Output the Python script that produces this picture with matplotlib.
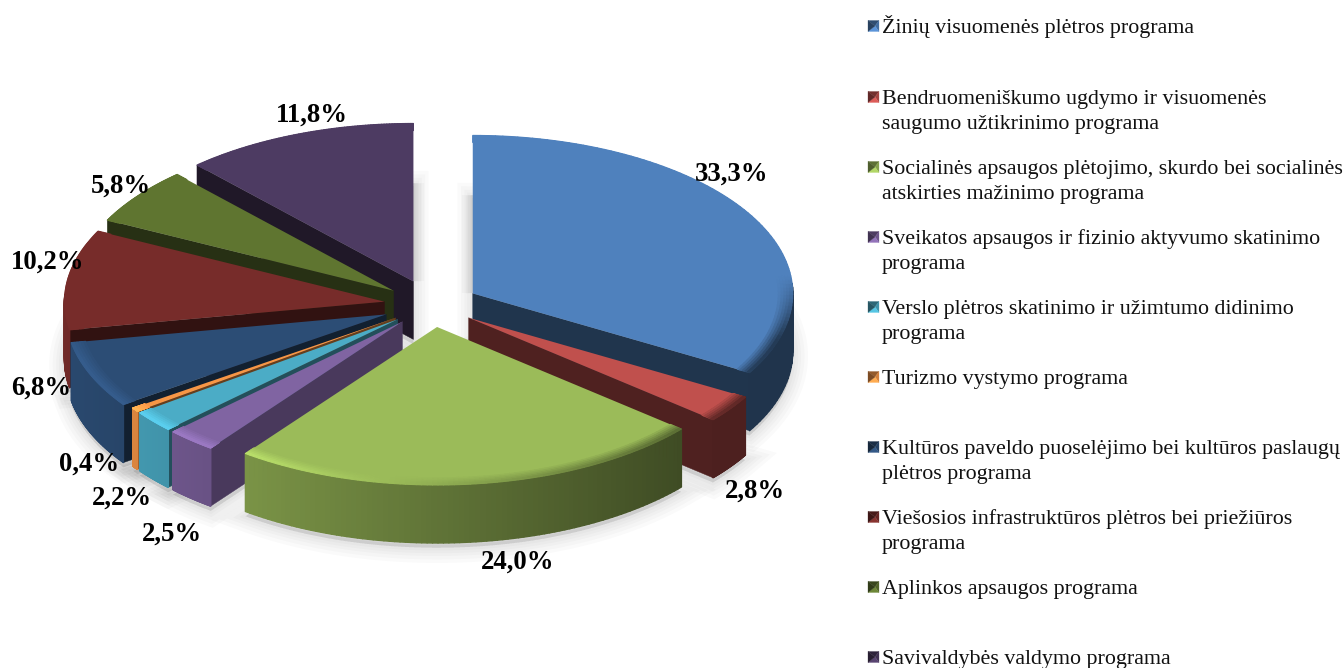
import numpy as np
import matplotlib
matplotlib.use("Agg")
import matplotlib.pyplot as plt
from matplotlib.collections import PolyCollection
from matplotlib.colors import to_rgb
from matplotlib.patches import Polygon
from matplotlib.transforms import Affine2D

categories = [
    "Žinių visuomenės plėtros programa",
    "Bendruomeniškumo ugdymo ir visuomenės\nsaugumo užtikrinimo programa",
    "Socialinės apsaugos plėtojimo, skurdo bei socialinės\natskirties mažinimo programa",
    "Sveikatos apsaugos ir fizinio aktyvumo skatinimo\nprograma",
    "Verslo plėtros skatinimo ir užimtumo didinimo\nprograma",
    "Turizmo vystymo programa",
    "Kultūros paveldo puoselėjimo bei kultūros paslaugų\nplėtros programa",
    "Viešosios infrastruktūros plėtros bei priežiūros\nprograma",
    "Aplinkos apsaugos programa",
    "Savivaldybės valdymo programa",
]
values = [33.3, 2.8, 24.0, 2.5, 2.2, 0.4, 6.8, 10.2, 5.8, 11.8]
colors = ["#4F81BD", "#C0504D", "#9BBB59", "#8064A2", "#4BACC6",
          "#F79646", "#2C4D75", "#772C2A", "#5F7530", "#4D3B62"]
explode = [0.147, 0.14, 0.14, 0.14, 0.14, 0.14, 0.155, 0.15, 0.15, 0.16]

W, H = 1344, 668
CX, CY, RX, RY = 432, 305, 320, 158
DEPTH = 58 / RY
SERIF = "Liberation Serif"

fig = plt.figure(figsize=(W / 100, H / 100), dpi=100, facecolor="white")
ax = fig.add_axes([0, 0, 1, 1])
wedges, _ = ax.pie(values, explode=explode, colors=colors, radius=1,
                   startangle=90, counterclock=False, normalize=True,
                   wedgeprops={"linewidth": 0})
ax.set_aspect("auto")
ax.set_xlim(-CX / RX, (W - CX) / RX)
ax.set_ylim(-(H - CY) / RY, CY / RY)
ax.axis("off")
px = Affine2D().scale(1, -1).translate(0, H)


def shade(rgb, f):
    return tuple(np.clip(np.array(rgb) * f, 0, 1))


def rim_f(x):
    return float(np.clip(0.625 - 0.28 * x, 0.40, 1.0))


def arc(w, n=90, r=None):
    t = np.radians(np.linspace(w.theta1, w.theta2, n))
    r = w.r if r is None else r
    return w.center[0] + r * np.cos(t), w.center[1] + r * np.sin(t), t


mids = [np.radians((w.theta1 + w.theta2) / 2) for w in wedges]
order = np.argsort([-np.sin(m) for m in mids])

# Soft ground shadow below each slice and along the two inner vertical edges
for w in wedges:
    x, y, _t = arc(w)
    outline = np.vstack([[w.center[0], w.center[1] - DEPTH - 0.03],
                         np.c_[x, y - DEPTH - 0.03]])
    for lw in (22, 17, 12, 8, 4):
        ax.add_patch(Polygon(outline, closed=True, facecolor=(0, 0, 0, 0.018),
                             edgecolor=(0, 0, 0, 0.018), linewidth=lw, zorder=0.5))
for w, xe, ye in ((wedges[0], wedges[0].center[0], wedges[0].center[1] + 0.62),
                  (wedges[-1], wedges[-1].center[0], wedges[-1].center[1] + 0.62)):
    for lw in (16, 11, 7, 3):
        ax.plot([w.center[0], xe], [w.center[1], ye], color=(0, 0, 0, 0.022),
                linewidth=lw, solid_capstyle="butt", zorder=0.5)

for z, i in enumerate(order):
    w = wedges[i]
    base = to_rgb(colors[i])
    zb = 2 + z
    cx0, cy0 = w.center
    x, y, t = arc(w)

    # radial walls that face the viewer
    for k, theta in ((0, w.theta1), (-1, w.theta2)):
        cw = (90 - theta) % 360
        normal = (cw - 90) % 360 if k == -1 else (cw + 90) % 360
        if not 95 < normal < 265:
            continue
        f = float(np.interp(normal, [120, 140], [0.65, 0.41]))
        quad = [[cx0, cy0], [x[k], y[k]], [x[k], y[k] - DEPTH], [cx0, cy0 - DEPTH]]
        ax.add_patch(Polygon(quad, closed=True, facecolor=shade(base, f),
                             edgecolor=shade(base, f), linewidth=0.3, zorder=zb))

    # outer rim, shaded along x, only where it faces the viewer
    quads, cols = [], []
    for a in range(len(x) - 1):
        if np.sin(t[a]) > 0.05:
            continue
        quads.append([[x[a], y[a]], [x[a + 1], y[a + 1]],
                      [x[a + 1], y[a + 1] - DEPTH], [x[a], y[a] - DEPTH]])
        cols.append(shade(base, rim_f((x[a] + x[a + 1]) / 2)))
    if quads:
        ax.add_collection(PolyCollection(quads, facecolors=cols, edgecolors=cols,
                                         linewidths=1.0, zorder=zb + 0.1))

    # top face (the pie wedge itself)
    w.set_zorder(zb + 0.2)

    # bevel along the front of the arc
    levels = np.linspace(0.955, 1.0, 6)
    quads, cols = [], []
    for li in range(len(levels) - 1):
        xa, ya, ta = arc(w, r=levels[li])
        xb, yb, _ = arc(w, r=levels[li + 1])
        amt = (li + 1) / (len(levels) - 1)
        for a in range(len(xa) - 1):
            weight = np.clip((-np.sin(ta[a]) + 0.1) / 0.4, 0, 1)
            g = 1.2 - 0.6 * (xb[a] + 0.6) / 1.35
            g = float(np.clip(g, 0.45, 1.2))
            if i in (7, 8, 9):
                g = 1.0
            f = 1 + (g - 1) * weight * amt
            quads.append([[xa[a], ya[a]], [xa[a + 1], ya[a + 1]],
                          [xb[a + 1], yb[a + 1]], [xb[a], yb[a]]])
            cols.append(shade(base, f))
    ax.add_collection(PolyCollection(quads, facecolors=cols, edgecolors=cols,
                                     linewidths=0.8, zorder=zb + 0.3))

# Data labels (baseline positions)
label_xy = [(732, 181), (755, 498), (518, 569), (172, 541), (122, 505),
            (89, 471), (41, 395), (48, 269), (121, 193), (312, 122)]
for v, (lx, ly) in zip(values, label_xy):
    ax.text(lx, ly, f"{v:.1f}%".replace(".", ","), transform=px, ha="center",
            va="baseline", family=SERIF, weight="bold", fontsize=19.3, color="black",
            zorder=100, clip_on=False)

# Legend
legend_y = [26, 97, 167, 237, 307, 377, 447, 517, 587, 657]
LINE = 25
for name, col, ly in zip(categories, colors, legend_y):
    rgb = to_rgb(col)
    l, r, t_, b = 868, 879, ly - 5.5, ly + 5.5
    mx, my = (l + r) / 2 + 1.5, (t_ + b) / 2
    faces = [([(l, t_), (r, t_), (mx, my)], 0.6),
             ([(r, t_), (r, b), (mx, my)], 0.85),
             ([(l, b), (r, b), (mx, my)], 1.15),
             ([(l, t_), (l, b), (mx, my)], 0.5)]
    for pts, f in faces:
        ax.add_patch(Polygon(pts, closed=True, transform=px, facecolor=shade(rgb, f),
                             edgecolor=shade(rgb, f), linewidth=0.2, zorder=100,
                             clip_on=False))
    for n, part in enumerate(name.split("\n")):
        ax.text(882, ly + 7 + n * LINE, part, transform=px, ha="left", va="baseline",
                family=SERIF, fontsize=15.8, color="#111111", zorder=100, clip_on=False)

fig.savefig("out.png", dpi=100, facecolor="white")
